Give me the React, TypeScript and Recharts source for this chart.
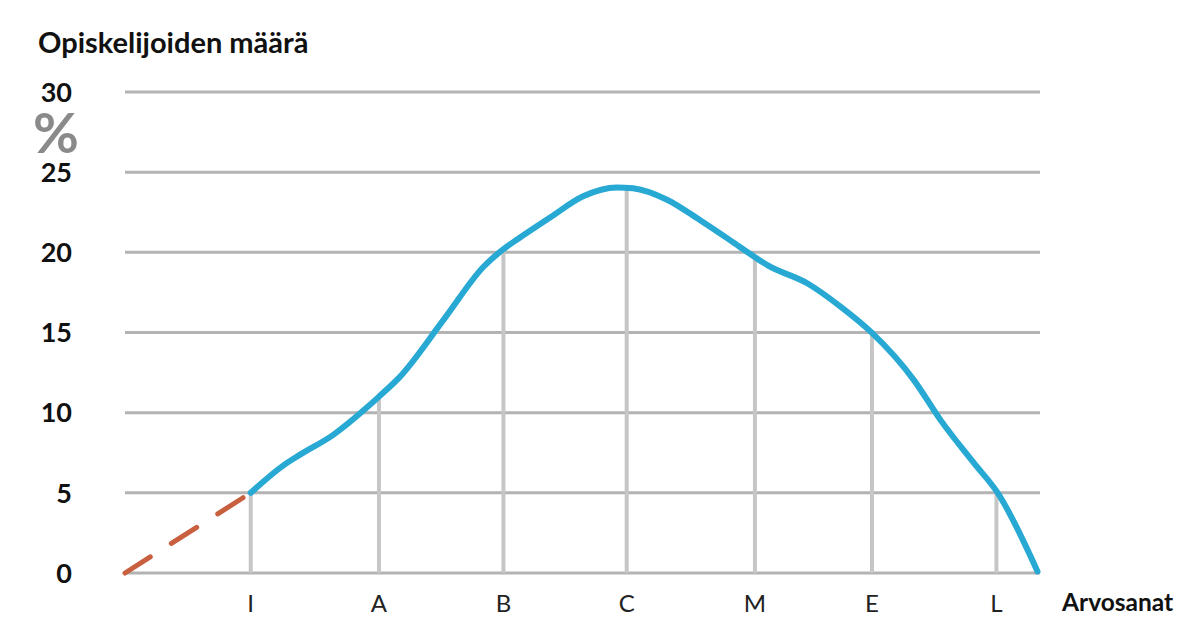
import React from 'react';
import { LineChart, Line, XAxis, YAxis, CartesianGrid, ReferenceLine } from 'recharts';

const gradeLabels = ['I', 'A', 'B', 'C', 'M', 'E', 'L'];
const gradePositions = [1.01, 2.04, 3.04, 4.03, 5.06, 6.0, 7.0];
const gradeValues = [5, 11, 20.2, 24, 19.7, 15.05, 5];

const curveX = [1.01, 1.27, 1.41, 1.67, 1.94, 2.04, 2.21, 2.56, 2.88, 3.04, 3.15, 3.42, 3.68, 3.95, 4.08, 4.35, 4.62, 4.89, 5.06, 5.16, 5.48, 5.75, 5.99, 6.34, 6.55, 6.82, 7.01, 7.33];
const curveY = [5.0, 6.7, 7.4, 8.6, 10.3, 11.0, 12.25, 15.8, 19.1, 20.2, 20.8, 22.2, 23.5, 24.05, 24.0, 23.3, 22.0, 20.6, 19.7, 19.2, 18.07, 16.6, 15.05, 12.0, 9.55, 6.85, 5.0, 0.1];

const extrapX = [0, 1.01];
const extrapY = [0, 5];

const yTicks = [0, 5, 10, 15, 20, 25, 30];

const curveData = curveX.map((x, i) => ({ x, y: curveY[i] }));
const extrapData = extrapX.map((x, i) => ({ x, y: extrapY[i] }));

const FONT = 'Lato, "Open Sans", sans-serif';

const YTick = (props: any) => {
  const { x, y, payload } = props;
  return (
    <text x={x} y={y} dy="0.36em" textAnchor="end" fontFamily={FONT} fontWeight={700} fontSize={27} fill="#111">
      {payload.value}
    </text>
  );
};

const XTick = (props: any) => {
  const { x, y, payload } = props;
  const idx = gradePositions.indexOf(payload.value);
  return (
    <text x={x} y={y} dy="0.36em" textAnchor="middle" fontFamily={FONT} fontWeight={400} fontSize={24} fill="#222">
      {gradeLabels[idx]}
    </text>
  );
};

export default function App() {
  return (
    <div style={{ position: 'absolute', left: 0, top: 0, width: 1200, height: 628, background: '#fff' }}>
      <LineChart width={1200} height={628} data={curveData} margin={{ top: 92, right: 160, left: 0, bottom: 15 }}>
        <CartesianGrid horizontal vertical={false} stroke="#b3b3b3" strokeWidth={3} />
        <XAxis
          dataKey="x"
          type="number"
          domain={[0, 7.35]}
          ticks={gradePositions}
          tick={<XTick />}
          axisLine={false}
          tickLine={false}
          height={40}
          tickMargin={24}
          interval={0}
        />
        <YAxis
          type="number"
          domain={[0, 30]}
          ticks={yTicks}
          tick={<YTick />}
          axisLine={false}
          tickLine={false}
          width={125}
          tickMargin={47}
          interval={0}
        />
        {gradePositions.map((p, i) => (
          <ReferenceLine
            key={gradeLabels[i]}
            segment={[{ x: p, y: 0 }, { x: p, y: gradeValues[i] }]}
            stroke="#c6c6c6"
            strokeWidth={4}
            ifOverflow="visible"
          />
        ))}
        <Line
          data={extrapData}
          dataKey="y"
          type="linear"
          stroke="#c8603f"
          strokeWidth={5}
          strokeDasharray="30 25"
          strokeLinecap="round"
          dot={false}
          activeDot={false}
          isAnimationActive={false}
        />
        <Line
          data={curveData}
          dataKey="y"
          type="monotone"
          stroke="#27a9d3"
          strokeWidth={6}
          strokeLinecap="round"
          strokeLinejoin="round"
          dot={false}
          activeDot={false}
          isAnimationActive={false}
        />
      </LineChart>
      <svg width={1200} height={628} style={{ position: 'absolute', left: 0, top: 0, pointerEvents: 'none' }}>
        <text x={38} y={53} fontFamily={FONT} fontWeight={700} fontSize={29} fill="#111">Opiskelijoiden määrä</text>
        <text x={56} y={153} textAnchor="middle" fontFamily={FONT} fontWeight={700} fontSize={56} fill="#8a8a8a">%</text>
        <text x={1062} y={611} fontFamily={FONT} fontWeight={700} fontSize={24.5} fill="#111">Arvosanat</text>
      </svg>
    </div>
  );
}
